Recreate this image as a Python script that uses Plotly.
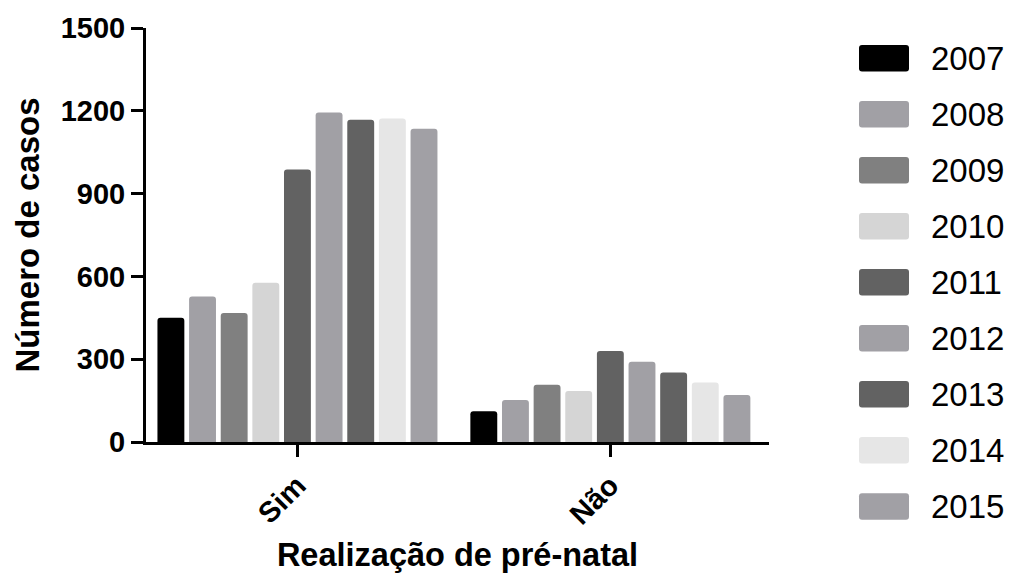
import plotly.graph_objects as go

categories = ["Sim", "Não"]
years = ["2007", "2008", "2009", "2010", "2011", "2012", "2013", "2014", "2015"]
values_sim = [450, 527, 467, 577, 987, 1194, 1168, 1172, 1135]
values_nao = [111, 152, 207, 185, 330, 291, 252, 216, 170]
colors = ["#000000", "#a1a0a5", "#808080", "#d5d5d5", "#626262",
          "#a1a0a5", "#626262", "#e6e6e6", "#a1a0a5"]
y_ticks = [0, 300, 600, 900, 1200, 1500]

FONT = "Liberation Sans, Arial, Helvetica, sans-serif"
W, H = 1012, 585
L, R, T, B = 146, 243, 26, 143
pw, ph = W - L - R, H - T - B

fig = go.Figure()
for i, yr in enumerate(years):
    fig.add_trace(go.Bar(
        x=categories, y=[values_sim[i], values_nao[i]], name=yr,
        marker=dict(color=colors[i], line=dict(width=0)),
        showlegend=False,
    ))


def px(x):
    return (x - L) / pw


def py(y):
    return (H - B - y) / ph


# custom legend (large rounded swatches) in paper coordinates
shapes, annotations = [], []
x0p, x1p = 859, 909
sh = 26.6
r = 3
for i, yr in enumerate(years):
    cy = 56.3 + i * 56.3
    top, bot = cy - sh / 2, cy + sh / 2
    path = (f"M{px(x0p + r)},{py(top)} L{px(x1p - r)},{py(top)} "
            f"Q{px(x1p)},{py(top)} {px(x1p)},{py(top + r)} "
            f"L{px(x1p)},{py(bot - r)} Q{px(x1p)},{py(bot)} {px(x1p - r)},{py(bot)} "
            f"L{px(x0p + r)},{py(bot)} Q{px(x0p)},{py(bot)} {px(x0p)},{py(bot - r)} "
            f"L{px(x0p)},{py(top + r)} Q{px(x0p)},{py(top)} {px(x0p + r)},{py(top)} Z")
    shapes.append(dict(type="path", xref="paper", yref="paper", path=path,
                       fillcolor=colors[i], line=dict(width=0)))
    annotations.append(dict(xref="paper", yref="paper", x=px(929), y=py(cy),
                            xanchor="left", yanchor="middle", text=yr,
                            showarrow=False,
                            font=dict(family=FONT, size=33, color="#000000")))

fig.update_layout(
    width=W, height=H,
    margin=dict(l=L, r=R, t=T, b=B),
    paper_bgcolor="white", plot_bgcolor="white",
    barmode="group", bargap=0.09, bargroupgap=0.15,
    barcornerradius=3,
    shapes=shapes, annotations=annotations,
    font=dict(family=FONT, color="#000000"),
    xaxis=dict(
        range=[-0.484, 1.507],
        showline=True, linewidth=3, linecolor="#000000",
        ticks="outside", ticklen=12, tickwidth=3, tickcolor="#000000",
        tickangle=-45, showgrid=False, zeroline=False,
        tickfont=dict(family=FONT, size=29, weight="bold"),
        title=dict(text="Realização de pré-natal", standoff=14,
                   font=dict(family=FONT, size=32.5, weight="bold")),
    ),
    yaxis=dict(
        range=[0, 1500], tickvals=y_ticks,
        showline=True, linewidth=3, linecolor="#000000",
        ticks="outside", ticklen=12, tickwidth=3, tickcolor="#000000",
        showgrid=False, zeroline=False,
        tickfont=dict(family=FONT, size=29, weight="bold"),
        title=dict(text="Número de casos", standoff=12,
                   font=dict(family=FONT, size=33, weight="bold")),
    ),
)

fig.write_html("out.html", config={"displayModeBar": False},
               post_script="document.body.style.margin='0';")
